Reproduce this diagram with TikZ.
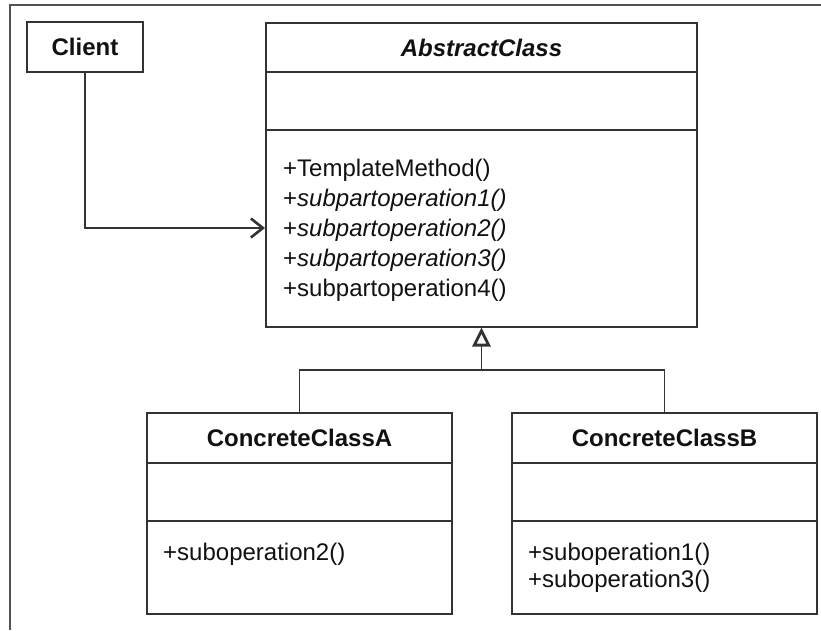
\documentclass[tikz,border=0pt]{standalone}
\usepackage{fontspec}
\setmainfont{Liberation Sans}
\usetikzlibrary{arrows.meta}
\definecolor{ink}{HTML}{111111}
\definecolor{edge}{HTML}{333333}
\tikzset{
  classbox/.style={draw=edge, line width=2pt, rectangle, inner sep=0pt, fill=white},
  divider/.style={draw=edge, line width=2pt},
  title/.style={font=\fontsize{24}{28}\selectfont\bfseries, text=ink, inner sep=0pt},
  member/.style={font=\fontsize{24}{28}\selectfont, text=ink, inner sep=0pt, anchor=base west},
  conn/.style={draw=edge, line width=1.7pt, line join=miter},
  assoc/.style={conn, -{Straight Barb[length=12pt, width=19pt, line width=2.6pt]}},
  inherit/.style={conn, -{Triangle[open, length=19pt, width=18pt, line width=2.8pt]}},
  frameline/.style={draw=edge!85, line width=1.6pt}
}
\begin{document}
\begin{tikzpicture}[x=1pt, y=-1pt]
\useasboundingbox (0,0) rectangle (821,630);
\fill[white] (0,0) rectangle (821,630);

% page frame (left and top edges)
\draw[frameline] (10,630) -- (10,5) -- (821,5);

% Client
\node[classbox, minimum width=116pt, minimum height=50pt] (client) at (85,47) {};
\node[title] (clientname) at (client.center) {Client};

% AbstractClass
\node[classbox, minimum width=431pt, minimum height=304pt] (abs) at (481.5,174.5) {};
\draw[divider] (abs.west |- 0,72) -- (abs.east |- 0,72);
\draw[divider] (abs.west |- 0,130) -- (abs.east |- 0,130);
\node[title] (absname) at (481.5,47.5) {\itshape AbstractClass};
\node[member] (m1) at (283,176.5) {+TemplateMethod()};
\node[member] (m2) at (283,206.5) {+\textit{subpartoperation1()}};
\node[member] (m3) at (283,236.5) {+\textit{subpartoperation2()}};
\node[member] (m4) at (283,266.5) {+\textit{subpartoperation3()}};
\node[member] (m5) at (283,296.5) {+subpartoperation4()};

% ConcreteClassA
\node[classbox, minimum width=305pt, minimum height=201pt] (ca) at (299.5,513.5) {};
\draw[divider] (ca.west |- 0,463) -- (ca.east |- 0,463);
\draw[divider] (ca.west |- 0,521) -- (ca.east |- 0,521);
\node[title] (caname) at (299.5,438) {ConcreteClassA};
\node[member] (a1) at (163,560) {+suboperation2()};

% ConcreteClassB
\node[classbox, minimum width=305pt, minimum height=201pt] (cb) at (664.5,513.5) {};
\draw[divider] (cb.west |- 0,463) -- (cb.east |- 0,463);
\draw[divider] (cb.west |- 0,521) -- (cb.east |- 0,521);
\node[title] (cbname) at (664.5,438) {ConcreteClassB};
\node[member] (b1) at (528,560) {+suboperation1()};
\node[member] (b2) at (528,587) {+suboperation3()};

% Client uses AbstractClass
\coordinate (absin) at (abs.west |- 0,228);
\draw[assoc] (client.south) |- (absin);

% generalisation
\coordinate (bar) at (abs.south |- 0,370);
\draw[conn] (ca.north) |- (bar) -| (cb.north);
\draw[inherit] (bar) -- (abs.south);
\end{tikzpicture}
\end{document}
